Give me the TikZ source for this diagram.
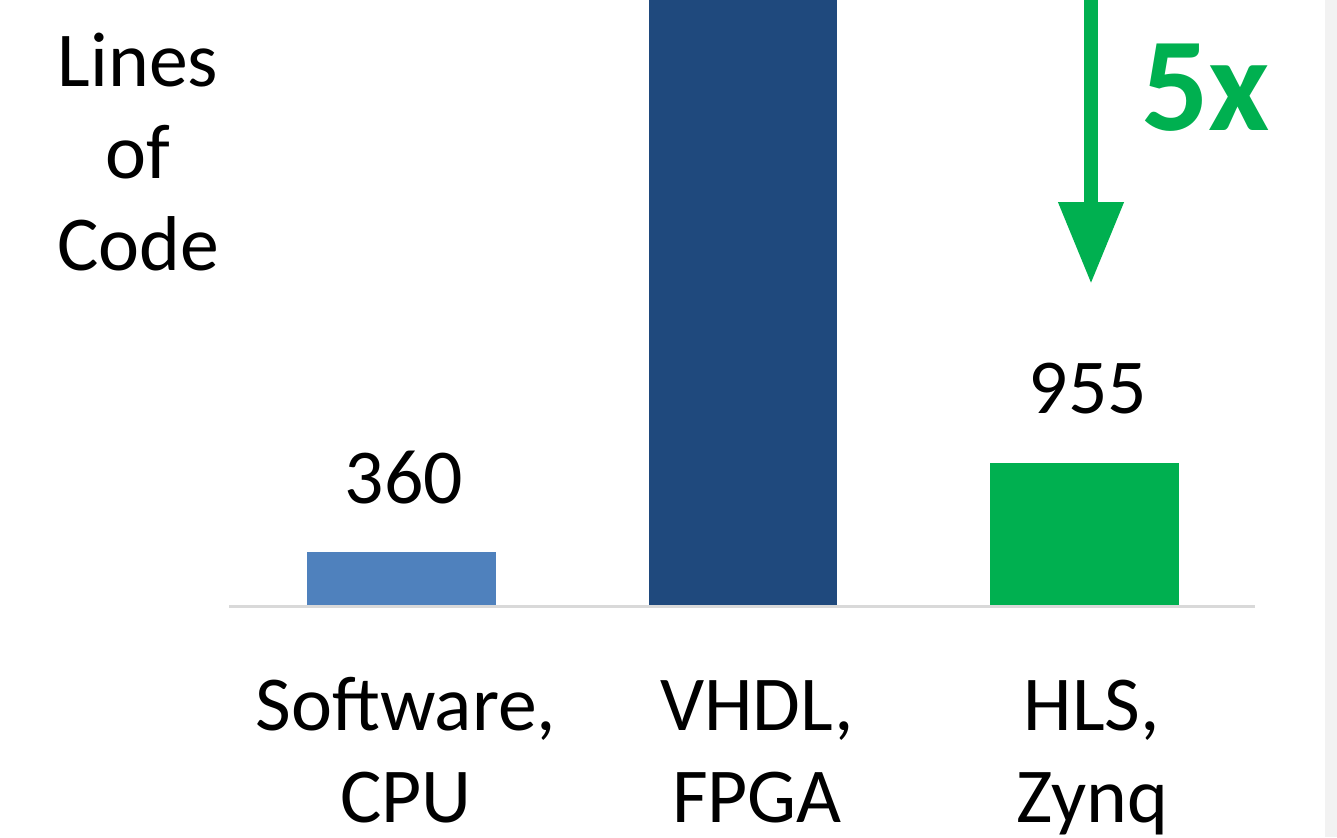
\documentclass[tikz,border=0pt]{standalone}
\usepackage{fontspec}
\setmainfont{Carlito}
\usepackage{xcolor}
\usepackage{tikz}
\usetikzlibrary{arrows.meta,positioning}

\definecolor{swblue}{HTML}{4F81BD}
\definecolor{fpgablue}{HTML}{1F497D}
\definecolor{hlsgreen}{HTML}{00B050}
\definecolor{axisgray}{HTML}{D9D9D9}
\definecolor{stripgray}{HTML}{F2F2F2}

\begin{document}
\begin{tikzpicture}[x=1bp, y=-1bp, line join=miter,
  catlabel/.style={font=\fontsize{78}{92}\selectfont, inner sep=0pt, align=center, anchor=base},
  vallabel/.style={font=\fontsize{78}{92}\selectfont, inner sep=0pt, anchor=base}]

% ---------------------------------------------------------
% Frame
% ---------------------------------------------------------
\useasboundingbox (0,0) rectangle (1337,837);
\fill[white] (0,0) rectangle (1337,837);
\fill[stripgray] (1325,0) rectangle (1337,837);   % right edge strip

% ---------------------------------------------------------
% Axis line
% ---------------------------------------------------------
\draw[axisgray, line width=3bp] (229,606) -- (1255,606);

% ---------------------------------------------------------
% Bars
% ---------------------------------------------------------
\fill[swblue]   (307,552) rectangle (496,605);   % software
\fill[fpgablue] (649,0)   rectangle (837,605);   % vhdl
\fill[hlsgreen] (990,463) rectangle (1179,605);  % hls

% ---------------------------------------------------------
% Reduction arrow
% ---------------------------------------------------------
\coordinate (A0) at (1091,0);
\coordinate (A1) at (1091,284);
\draw[hlsgreen, line width=14bp,
      -{Triangle[length=82bp, width=62bp]}] (A0) -- (A1);
\node[font=\bfseries\fontsize{134}{134}\selectfont, text=hlsgreen,
      inner sep=0pt, anchor=base west] (red) at (1141,130) {5x};

% ---------------------------------------------------------
% Labels (base anchor sits on the last line)
% ---------------------------------------------------------
\node[catlabel] (ylab) at (138,270) {Lines\\of\\Code};
\node[vallabel] (v1) at (404,503) {360};
\node[vallabel] (v3) at (1088,413) {955};
\node[catlabel] (c1) at (406,822) {Software,\\CPU};
\node[catlabel] (c2) at (757,822) {VHDL,\\FPGA};
\node[catlabel] (c3) at (1092,822) {HLS,\\Zynq};

\end{tikzpicture}
\end{document}
